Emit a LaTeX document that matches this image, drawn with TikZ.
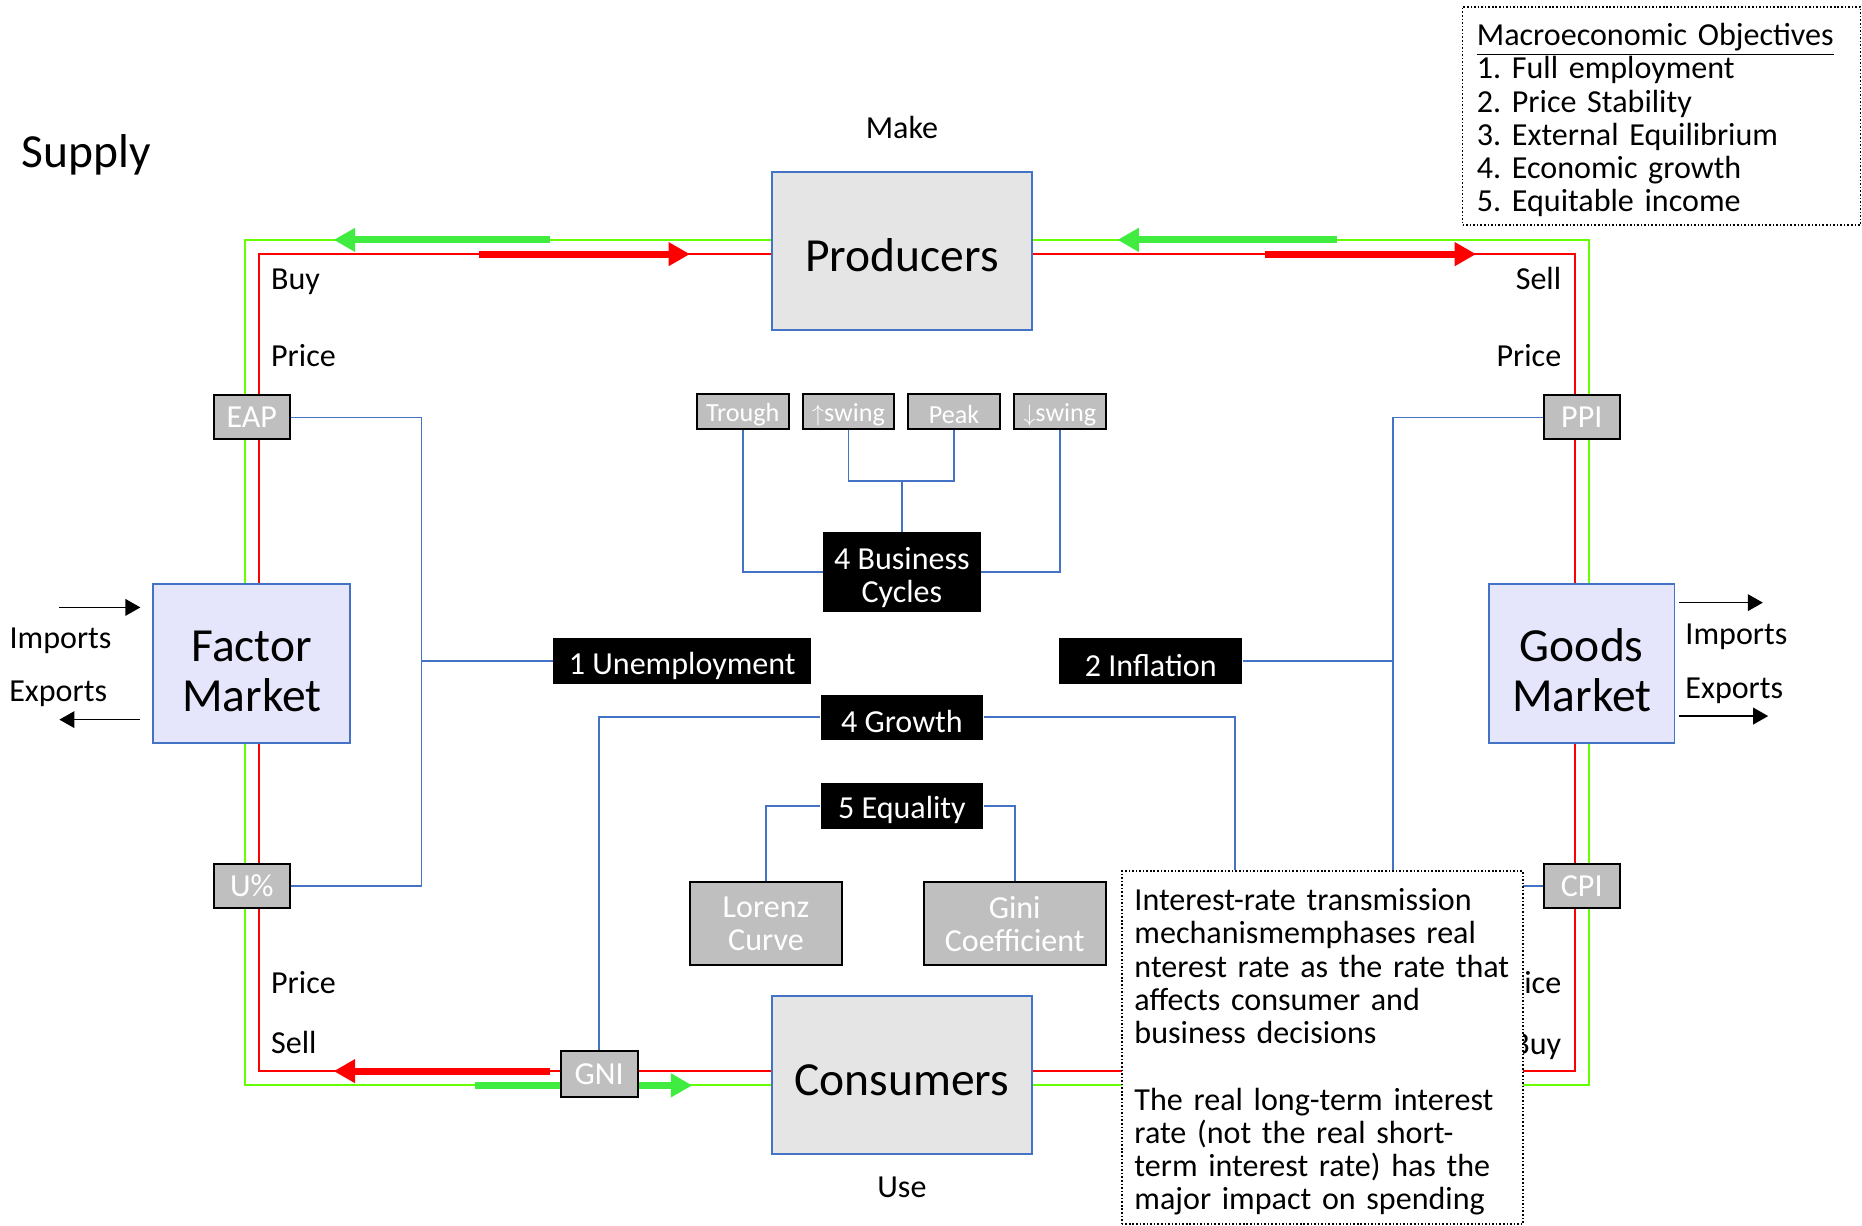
\documentclass[tikz,border=0pt]{standalone}
\usepackage{fontspec}
\setmainfont{Carlito}
\usetikzlibrary{arrows.meta, positioning, backgrounds}

\definecolor{wireblue}{RGB}{68,114,196}
\definecolor{loopgreen}{RGB}{102,255,0}
\definecolor{flowgreen}{RGB}{64,236,64}
\definecolor{boxgray}{RGB}{191,191,191}
\definecolor{mktfill}{RGB}{229,229,251}

\newcommand{\diagbig}{\fontsize{24}{25.2}\selectfont}
\newcommand{\diagmid}{\fontsize{16.2}{16.8}\selectfont}
\newcommand{\diagsmall}{\fontsize{13.2}{14}\selectfont}
\newcommand{\lift}[1]{\rule{0pt}{#1}}
\frenchspacing

\begin{document}
\begin{tikzpicture}[
        x=0.6pt, y=-0.6pt,
        agent/.style={draw=wireblue, line width=0.9pt, fill=gray!20,
                      minimum width=131.4pt, minimum height=79.8pt, font=\diagbig,
                      execute at begin node={\lift{21pt}}},
        market/.style={draw=wireblue, line width=0.9pt, fill=mktfill,
                       minimum height=80.4pt, align=center, font=\diagbig},
        index/.style={draw=black, line width=1pt, fill=boxgray, text=white,
                      minimum width=38.4pt, minimum height=22.2pt, inner sep=1pt, font=\diagmid},
        phase/.style={index, minimum width=46.2pt, minimum height=17.4pt, font=\diagsmall,
                      execute at begin node={\lift{12.6pt}}},
        measure/.style={index, minimum height=42pt, align=center},
        goal/.style={fill=black, text=white, minimum height=23.4pt,
                     inner sep=1pt, align=center, font=\diagmid,
                     execute at begin node={\lift{16pt}}},
        lbl/.style={font=\diagmid, inner sep=0pt},
        memo/.style={draw, densely dotted, line width=0.8pt, fill=white,
                     align=left, font=\diagmid,
                     execute at begin node={\lift{15.6pt}}},
        wire/.style={draw=wireblue, line width=0.9pt},
        gloop/.style={draw=loopgreen, line width=1pt},
        rloop/.style={draw=red, line width=1pt},
        gflow/.style={draw=flowgreen, line width=3.5pt, -{Triangle[length=10.8pt, width=11.4pt]}},
        rflow/.style={draw=red, line width=3.5pt, -{Triangle[length=10.8pt, width=11.4pt]}},
        trade/.style={line width=0.8pt, -{Triangle[length=7.6pt, width=8.4pt]}}
    ]
    \useasboundingbox (0,0) rectangle (1568,1032);

    % sectors and markets
    \node[agent] (prod) at (759.5,211.5) {Producers};
    \node[agent] (cons) at (759.5,905.5) {Consumers};
    \node[market, minimum width=99.6pt] (fm) at (212,559) {\lift{23pt}Factor\\Market};
    \node[market, minimum width=93.6pt] (gm) at (1332,559) {\lift{23pt}Goods\\Market};

    % indicators on the loop
    \node[index] (eap) at (212,351.5) {EAP};
    \node[index] (ppi) at (1332,351.5) {PPI};
    \node[index] (uep) at (212,746) {U\%};
    \node[index] (cpi) at (1332,746) {CPI};
    \node[index, minimum width=39pt, minimum height=23.4pt] (gni) at (504.5,904.5) {GNI};

    % business cycle phases
    \node[phase] (trough) at (625.5,346.5) {Trough};
    \node[phase, right=6.2pt of trough] (uswing) {$\uparrow$swing};
    \node[phase, right=6.2pt of uswing] (peak) {Peak};
    \node[phase, right=6.2pt of peak] (dswing) {$\downarrow$swing};

    % objectives
    \node[goal, minimum width=79.8pt, minimum height=40.2pt] (cycles) at (759.5,481.5) {\lift{17pt}4 Business\\Cycles};
    \node[goal, minimum width=130.2pt] (unemp) at (574.5,556.5) {1 Unemployment};
    \node[goal, minimum width=92.4pt] (infl) at (969,556.5) {2 Inflation};
    \node[goal, minimum width=82.2pt, minimum height=22.8pt] (growth) at (759.5,604) {4 Growth};
    \node[goal, minimum width=82.2pt] (equal) at (759.5,678.5) {5 Equality};
    \node[measure, minimum width=76.8pt] (lorenz) at (645,778) {Lorenz\\Curve};
    \node[measure, minimum width=91.8pt] (gini) at (854.5,778) {Gini\\Coefficient};

    % labels
    \node[lbl, anchor=base west, font=\diagbig] (supply) at (18,141) {Supply};
    \node[lbl, anchor=base] (make) at (759.5,117) {Make};
    \node[lbl, anchor=base] (use) at (759.5,1008) {Use};
    \node[lbl, anchor=base west] (buytl) at (228,244) {Buy};
    \node[lbl, anchor=base west] (pricetl) at (228,309) {Price};
    \node[lbl, anchor=base east] (selltr) at (1315,244) {Sell};
    \node[lbl, anchor=base east] (pricetr) at (1315,309) {Price};
    \node[lbl, anchor=base west] (pricebl) at (228,837) {Price};
    \node[lbl, anchor=base west] (sellbl) at (228,887) {Sell};
    \node[lbl, anchor=base east] (pricebr) at (1315,837) {Price};
    \node[lbl, anchor=base east] (buybr) at (1315,888) {Buy};
    \node[lbl, anchor=base] (impl) at (51,546) {Imports};
    \node[lbl, anchor=base] (expl) at (49,591) {Exports};
    \node[lbl, anchor=base west] (impr) at (1419,543) {Imports};
    \node[lbl, anchor=base west] (expr) at (1419,588) {Exports};

    % text boxes
    \node[memo, anchor=north west, minimum width=201pt, minimum height=110.4pt,
          text width=186.6pt, inner xsep=7.2pt] (goals) at (1231,5)
        {\underline{Macroeconomic Objectives}\\1. Full employment\\2. Price Stability\\
         3. External Equilibrium\\4. Economic growth\\5. Equitable income};
    \node[memo, anchor=north west, minimum width=202.8pt, minimum height=178.2pt,
          text width=190pt, inner xsep=6.4pt] (note) at (944,733)
        {Interest-rate transmission\\mechanismemphases real\\nterest rate as the rate that\\
         affects consumer and\\business decisions\\[16.8pt]
         The real long-term interest\\rate (not the real short-\\term interest rate) has the\\
         major impact on spending};

    % trade arrows
    \coordinate (impa) at (50,511.5);
    \coordinate (expa) at (50,606);
    \coordinate (impb) at (1484.5,507.5);
    \coordinate (expb) at (1489,603);
    \draw[trade, shorten >=6pt] (impa) -- (impa -| fm.west);
    \draw[trade, shorten <=6pt] (expa -| fm.west) -- (expa);
    \draw[trade, shorten <=1.8pt] (impb -| gm.east) -- (impb);
    \draw[trade, shorten <=1.8pt] (expb -| gm.east) -- (expb);

    \begin{pgfonlayer}{background}
        % circular flow
        \coordinate (gnw) at (206,202);
        \coordinate (gse) at (1338,914);
        \coordinate (rnw) at (218,214);
        \coordinate (rse) at (1326,902);
        \draw[gloop] (gnw) rectangle (gse);
        \draw[rloop] (rnw) rectangle (rse);

        \coordinate (ga1) at (463,202);  \coordinate (ga2) at (281,202);
        \coordinate (ra1) at (403,214);  \coordinate (ra2) at (581,214);
        \coordinate (gb1) at (1126,202); \coordinate (gb2) at (941,202);
        \coordinate (rb1) at (1065,214); \coordinate (rb2) at (1243,214);
        \coordinate (rc1) at (463,902);  \coordinate (rc2) at (281,902);
        \coordinate (gc1) at (400,914);  \coordinate (gc2) at (583,914);
        \draw[gflow] (ga1) -- (ga2);
        \draw[rflow] (ra1) -- (ra2);
        \draw[gflow] (gb1) -- (gb2);
        \draw[rflow] (rb1) -- (rb2);
        \draw[rflow] (rc1) -- (rc2);
        \draw[gflow] (gc1) -- (gc2);

        % links
        \coordinate (lbus) at (355,556.5);
        \coordinate (rbus) at (1173,556.5);
        \draw[wire] (eap.east) -| (lbus) |- (uep.east);
        \draw[wire] (unemp.west) -- (lbus);
        \draw[wire] (ppi.west) -| (rbus) |- (cpi.west);
        \draw[wire] (infl.east) -- (rbus);
        \draw[wire] (growth.west) -| (gni.north);
        \draw[wire] (growth.east) -| ([xshift=57.6pt]note.north west);

        \coordinate (cyc) at (759.5,405);
        \draw[wire] (trough.south) |- (cycles.west);
        \draw[wire] (dswing.south) |- (cycles.east);
        \draw[wire] (uswing.south) |- (cyc) -| (peak.south);
        \draw[wire] (cyc) -- (cycles.north);

        \draw[wire] (equal.west) -| (lorenz.north);
        \draw[wire] (equal.east) -| (gini.north);
    \end{pgfonlayer}
\end{tikzpicture}
\end{document}
